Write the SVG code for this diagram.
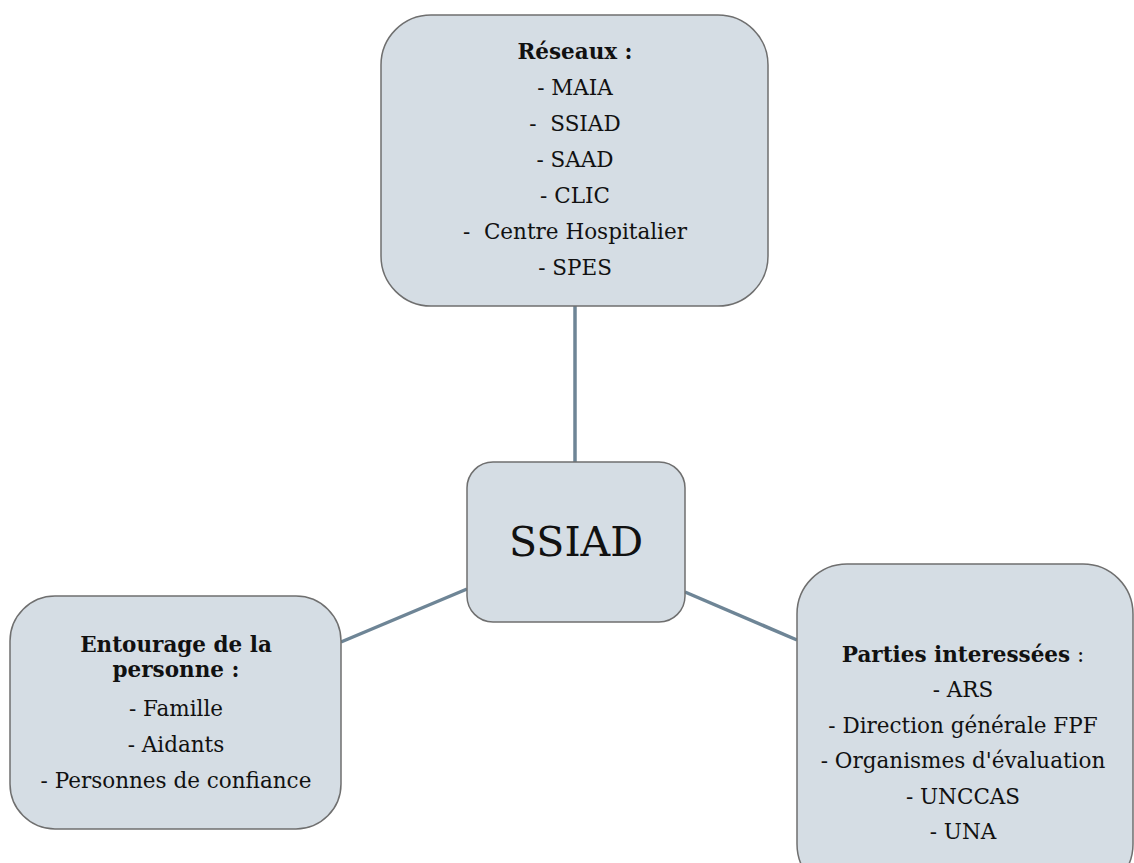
<svg xmlns="http://www.w3.org/2000/svg" width="1134" height="863" viewBox="0 0 1134 863">
<style>
.box{fill:#d5dde4;stroke:#6f6f6f;stroke-width:1.5}
.conn{stroke:#6e8596;stroke-width:3.5;fill:none}
text{font-family:"DejaVu Serif","Liberation Serif",serif;font-size:21.5px;fill:#111;text-anchor:middle;white-space:pre}
.b{font-weight:bold}
.big{font-size:41px}
</style>
<rect width="1134" height="863" fill="#ffffff"/>
<g id="connectors">
<line class="conn" x1="575" y1="306" x2="575" y2="462"/>
<line class="conn" x1="341" y1="642" x2="467" y2="589"/>
<line class="conn" x1="685" y1="592" x2="797" y2="640"/>
</g>
<g id="node-reseaux">
<rect class="box" x="381" y="15" width="387" height="291" rx="50" ry="50"/>
<text x="575" y="59" class="b">Réseaux :</text>
<text x="575" y="95">- MAIA</text>
<text x="575" y="131">-  SSIAD</text>
<text x="575" y="167">- SAAD</text>
<text x="575" y="203">- CLIC</text>
<text x="575" y="239">-  Centre Hospitalier</text>
<text x="575" y="275">- SPES</text>
</g>
<g id="node-ssiad">
<rect class="box" x="467" y="462" width="218" height="160" rx="26" ry="26"/>
<text x="576" y="556" class="big">SSIAD</text>
</g>
<g id="node-entourage">
<rect class="box" x="10" y="596" width="331" height="233" rx="45" ry="45"/>
<text x="176" y="652" class="b">Entourage de la</text>
<text x="176" y="677" class="b">personne :</text>
<text x="176" y="716">- Famille</text>
<text x="176" y="752">- Aidants</text>
<text x="176" y="788">- Personnes de confiance</text>
</g>
<g id="node-parties">
<rect class="box" x="797" y="564" width="336" height="330" rx="50" ry="50"/>
<text x="963" y="662"><tspan class="b">Parties interessées</tspan> :</text>
<text x="963" y="697">- ARS</text>
<text x="963" y="733">- Direction générale FPF</text>
<text x="963" y="768">- Organismes d'évaluation</text>
<text x="963" y="804">- UNCCAS</text>
<text x="963" y="839">- UNA</text>
</g>
</svg>
